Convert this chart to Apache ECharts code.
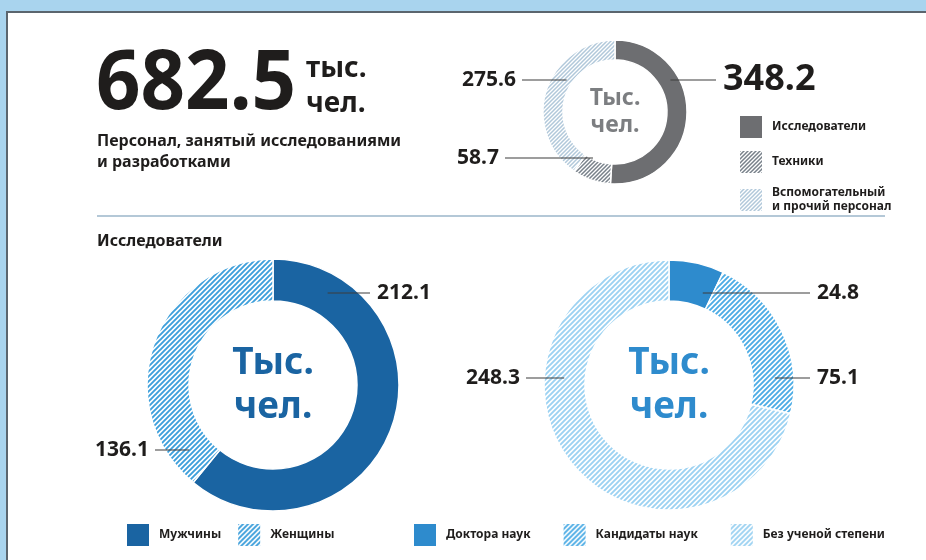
<!DOCTYPE html>
<html>
<head>
<meta charset="utf-8">
<script src="https://cdn.jsdelivr.net/npm/echarts@6/dist/echarts.min.js"></script>
<style>
html, body { margin: 0; padding: 0; }
body { width: 926px; height: 560px; background: #a9d4ee; position: relative; overflow: hidden; }
.panel { position: absolute; left: 6px; top: 11px; right: 0; bottom: 0; background: #fff;
         border-left: 2px solid #5b656e; border-top: 2px solid #5b656e; }
#chart { position: absolute; left: 0; top: 0; width: 926px; height: 560px; }
</style>
</head>
<body>
<div class="panel"></div>
<div id="chart"></div>
<script>
// данные
const staffTotal = '682.5';
const staffNames = ['Исследователи', 'Техники', 'Вспомогательный и прочий персонал'];
const staffValues = [348.2, 58.7, 275.6];
const genderNames = ['Мужчины', 'Женщины'];
const genderValues = [212.1, 136.1];
const degreeNames = ['Доктора наук', 'Кандидаты наук', 'Без ученой степени'];
const degreeValues = [24.8, 75.1, 248.3];

// раскладка: центры колец и положение подписей
const staffCenter = [615, 112];
const genderCenter = [273, 385];
const degreeCenter = [669, 385];
const staffPlaces = [
    { side: 'right', dy: -32, r: 64, out: 101 },
    { side: 'left', dy: 46, r: 51, out: 110 },
    { side: 'left', dy: -32, r: 58, out: 93 }
];
const genderPlaces = [
    { side: 'right', dy: -92, r: 107, out: 97 },
    { side: 'left', dy: 65, r: 106, out: 118 }
];
const degreePlaces = [
    { side: 'right', dy: -92, r: 98, out: 141 },
    { side: 'right', dy: -7, r: 106, out: 141 },
    { side: 'left', dy: -7, r: 105, out: 143 }
];

const FONT = '"Noto Sans", "Open Sans", sans-serif';
const INK = '#1f1d1c';

// штриховка "////"
function hatch(color, size, lw) {
    const c = document.createElement('canvas');
    c.width = size; c.height = size;
    const g = c.getContext('2d');
    g.fillStyle = '#ffffff';
    g.fillRect(0, 0, size, size);
    g.strokeStyle = color;
    g.lineWidth = lw;
    g.beginPath();
    g.moveTo(-1, size + 1); g.lineTo(size + 1, -1);
    g.moveTo(-1, 1); g.lineTo(1, -1);
    g.moveTo(size - 1, size + 1); g.lineTo(size + 1, size - 1);
    g.stroke();
    return { image: c, repeat: 'repeat' };
}

const staffColors = ['#6d6e71', hatch('#78818a', 4, 1.5), hatch('#b1c8da', 4, 1.5)];
const genderColors = ['#1a64a2', hatch('#3d9fdb', 5, 1.9)];
const degreeColors = ['#2e8bcd', hatch('#4cace5', 5, 1.9), hatch('#9cd2f2', 5, 1.9)];
const staffLabelSize = [36, 21, 21];

// подписи с горизонтальными выносками
const placeLabels = (center, places) => (p) => {
    const pl = places[p.dataIndex];
    const y = center[1] + pl.dy;
    const dx = Math.sqrt(pl.r * pl.r - pl.dy * pl.dy);
    const right = pl.side === 'right';
    const sx = right ? center[0] + dx : center[0] - dx;
    const ex = right ? center[0] + pl.out : center[0] - pl.out;
    return {
        x: right ? ex + 7 : ex - 6,
        y: y,
        align: right ? 'left' : 'right',
        verticalAlign: 'middle',
        labelLinePoints: [[sx, y], [ex, y], [ex, y]]
    };
};

// кольцо
const makePie = (names, values, colors, center, radius) => ({
    type: 'pie',
    center: center,
    radius: radius,
    startAngle: 90,
    clockwise: true,
    silent: true,
    itemStyle: { borderColor: '#fff', borderWidth: 1.5 },
    label: { show: false },
    labelLine: { show: false },
    data: names.map((n, i) => ({ name: n, value: values[i], itemStyle: { color: colors[i] } }))
});

// прозрачная копия кольца поверх — только подписи и выноски
const makeLabels = (names, values, center, radius, places, sizes) => ({
    type: 'pie',
    z: 5,
    center: center,
    radius: radius,
    startAngle: 90,
    clockwise: true,
    silent: true,
    itemStyle: { color: 'rgba(0,0,0,0)', borderWidth: 0 },
    label: {
        show: true,
        formatter: '{c}',
        color: INK,
        fontFamily: FONT,
        fontWeight: 'bold',
        fontSize: 21
    },
    labelLine: { show: true, lineStyle: { color: '#3d3d3c', width: 1.2 } },
    labelLayout: placeLabels(center, places),
    data: names.map((n, i) => ({
        name: n,
        value: values[i],
        label: sizes ? { fontSize: sizes[i] } : {}
    }))
});

const legendText = { color: INK, fontFamily: FONT, fontWeight: 'bold', fontSize: 12, padding: [0, 0, 0, 5], lineHeight: 14 };

const centerText = (center, color, size, lh) => ({
    type: 'text',
    x: center[0],
    y: center[1],
    style: {
        text: 'Тыс.\nчел.',
        textAlign: 'center',
        textVerticalAlign: 'middle',
        fill: color,
        font: 'bold ' + size + 'px ' + FONT,
        lineHeight: lh
    }
});

const chart = echarts.init(document.getElementById('chart'));
chart.setOption({
    animation: false,
    legend: [
        {
            data: staffNames, orient: 'vertical', left: 735, top: 111,
            itemWidth: 22, itemHeight: 22, itemGap: 13, icon: 'rect',
            itemStyle: { borderWidth: 0 },
            textStyle: legendText,
            formatter: (n) => n.replace(' и ', '\nи ')
        },
        {
            data: genderNames, left: 122, top: 519,
            itemWidth: 22, itemHeight: 22, itemGap: 17, icon: 'rect',
            itemStyle: { borderWidth: 0 },
            textStyle: legendText
        },
        {
            data: degreeNames, left: 409, top: 519,
            itemWidth: 22, itemHeight: 22, itemGap: 33, icon: 'rect',
            itemStyle: { borderWidth: 0 },
            textStyle: legendText
        }
    ],
    graphic: [
        { type: 'text', x: 96, y: 86, scaleX: 0.95, style: { text: staffTotal, textVerticalAlign: 'middle', fill: INK, font: 'bold 82px ' + FONT } },
        { type: 'text', x: 306, y: 87, style: { text: 'тыс.\nчел.', textVerticalAlign: 'middle', fill: INK, font: 'bold 28px ' + FONT, lineHeight: 35 } },
        { type: 'text', x: 97, y: 131, style: { text: 'Персонал, занятый исследованиями\nи разработками', fill: INK, font: 'bold 16px ' + FONT, lineHeight: 21 } },
        { type: 'line', shape: { x1: 97, y1: 216, x2: 885, y2: 216 }, style: { stroke: '#9bb6ca', lineWidth: 1.5 } },
        { type: 'text', x: 97, y: 233, style: { text: 'Исследователи', fill: INK, font: 'bold 16px ' + FONT } },
        centerText(staffCenter, '#7c7e81', 23, 27),
        centerText(genderCenter, '#1a64a2', 37, 44),
        centerText(degreeCenter, '#2e8bcd', 37, 44)
    ],
    series: [
        makePie(staffNames, staffValues, staffColors, staffCenter, [52, 72]),
        makePie(genderNames, genderValues, genderColors, genderCenter, [84, 126]),
        makePie(degreeNames, degreeValues, degreeColors, degreeCenter, [84, 125]),
        makeLabels(staffNames, staffValues, staffCenter, [52, 72], staffPlaces, staffLabelSize),
        makeLabels(genderNames, genderValues, genderCenter, [84, 126], genderPlaces),
        makeLabels(degreeNames, degreeValues, degreeCenter, [84, 125], degreePlaces)
    ]
});
</script>
</body>
</html>
